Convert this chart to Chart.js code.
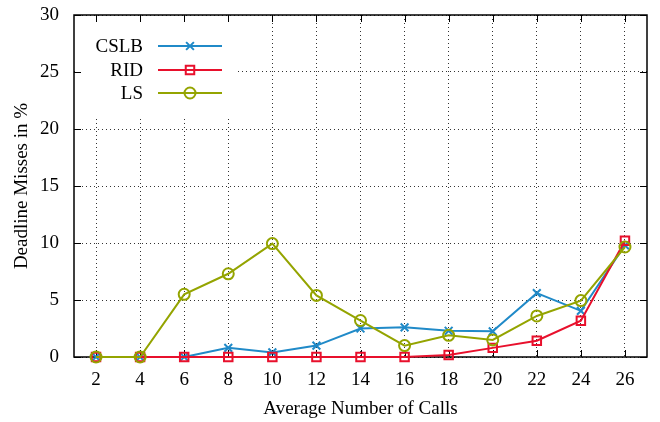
<!DOCTYPE html>
<html>
<head>
<meta charset="utf-8">
<script src="https://cdn.jsdelivr.net/npm/chart.js@4"></script>
<style>
html,body{margin:0;padding:0;background:#fff;}
#wrap{width:660px;height:422px;}
</style>
</head>
<body>
<div id="wrap"><canvas id="c" width="660" height="422"></canvas></div>
<script>
const categories = ['2','4','6','8','10','12','14','16','18','20','22','24','26'];
const cslb = [0, 0, 0, 0.8, 0.4, 1.0, 2.5, 2.6, 2.3, 2.25, 5.6, 4.05, 9.8];
const rid  = [0, 0, 0, 0, 0, 0, 0, 0, 0.18, 0.8, 1.43, 3.18, 10.2];
const ls   = [0, 0, 5.5, 7.3, 9.95, 5.4, 3.2, 1.0, 1.9, 1.5, 3.6, 4.95, 9.65];
const yTicks = [0, 5, 10, 15, 20, 25, 30];

const FONT = "'Liberation Serif', 'Times New Roman', serif";
const FS = 19;
const BLUE = 'rgb(32,138,200)';
const RED = 'rgb(232,16,44)';
const OLIVE = 'rgb(148,164,0)';

const framePlugin = {
  id: 'frame',
  beforeDatasetsDraw(chart) {
    const ctx = chart.ctx, a = chart.chartArea;
    ctx.save();
    ctx.fillStyle = '#fff';
    ctx.fillRect(a.left + 1, a.top + 1, 162, 101);
    ctx.strokeStyle = '#000';
    ctx.lineWidth = 1.5;
    ctx.strokeRect(a.left, a.top, a.right - a.left, a.bottom - a.top);
    ctx.lineWidth = 1;
    const xs = chart.scales.x, ys = chart.scales.y;
    const L = 7;
    ctx.beginPath();
    categories.forEach((c, i) => {
      const x = Math.round(xs.getPixelForValue(i)) + 0.5;
      ctx.moveTo(x, a.bottom); ctx.lineTo(x, a.bottom - L);
      ctx.moveTo(x, a.top); ctx.lineTo(x, a.top + L);
    });
    yTicks.forEach(v => {
      const y = Math.round(ys.getPixelForValue(v)) + 0.5;
      ctx.moveTo(a.left, y); ctx.lineTo(a.left + L, y);
      ctx.moveTo(a.right, y); ctx.lineTo(a.right - L, y);
    });
    ctx.stroke();
    ctx.restore();
  },
  afterDraw(chart) {
    const ctx = chart.ctx;
    const rows = [46, 70, 93];
    ctx.save();
    ctx.font = FS + 'px ' + FONT;
    ctx.textAlign = 'right';
    ctx.textBaseline = 'middle';
    chart.data.datasets.forEach((ds, i) => {
      const y = rows[i];
      ctx.fillStyle = '#000';
      ctx.fillText(ds.label, 143, y + 1);
      ctx.strokeStyle = ds.borderColor;
      ctx.lineWidth = 2;
      ctx.beginPath();
      ctx.moveTo(158, y); ctx.lineTo(222, y);
      ctx.stroke();
      ctx.fillStyle = 'rgba(0,0,0,0)';
      ctx.strokeStyle = ds.borderColor;
      ctx.lineWidth = ds.pointBorderWidth;
      Chart.helpers.drawPoint(ctx, {
        pointStyle: ds.pointStyle, radius: ds.pointRadius, borderWidth: ds.pointBorderWidth, rotation: 0
      }, 190, y);
    });
    ctx.restore();
  }
};

function mk(label, data, color, style, radius, order) {
  return {
    label, data, borderColor: color, backgroundColor: 'transparent',
    pointBackgroundColor: 'transparent', pointBorderColor: color,
    pointStyle: style, pointRadius: radius, pointBorderWidth: 2,
    borderWidth: 2, tension: 0, clip: false, order
  };
}

new Chart(document.getElementById('c'), {
  type: 'line',
  data: {
    labels: categories,
    datasets: [
      mk('CSLB', cslb, BLUE, 'crossRot', 5.5, 3),
      mk('RID', rid, RED, 'rect', 6, 2),
      mk('LS', ls, OLIVE, 'circle', 5.5, 1)
    ]
  },
  plugins: [framePlugin],
  options: {
    responsive: false,
    animation: false,
    devicePixelRatio: 1,
    layout: { padding: { top: 15, right: 13, left: 0, bottom: 0 } },
    plugins: { legend: { display: false }, tooltip: { enabled: false } },
    scales: {
      x: {
        type: 'category',
        offset: true,
        grid: { display: true, offset: false, color: 'rgba(0,0,0,0.8)', drawTicks: false, lineWidth: 1 },
        border: { display: false, dash: [1, 3] },
        ticks: { color: '#000', font: { family: FONT, size: FS }, padding: 12, maxRotation: 0, autoSkip: false },
        title: { display: true, text: 'Average Number of Calls', color: '#000', font: { family: FONT, size: FS }, padding: { top: 0, bottom: 2 } },
        afterFit(s) { s.height = 65; s.paddingLeft = 0; s.paddingRight = 0; }
      },
      y: {
        min: 0, max: 30,
        afterBuildTicks(s) { s.ticks = yTicks.map(v => ({ value: v })); },
        grid: { color: 'rgba(0,0,0,0.8)', drawTicks: false, lineWidth: 1 },
        border: { display: false, dash: [1, 3] },
        ticks: { color: '#000', font: { family: FONT, size: FS }, padding: 15 },
        title: { display: true, text: 'Deadline Misses in %', color: '#000', font: { family: FONT, size: FS }, padding: { top: 11, bottom: 0 } },
        afterFit(s) { s.width = 74; s.paddingTop = 0; s.paddingBottom = 0; }
      }
    }
  }
});
</script>
</body>
</html>
